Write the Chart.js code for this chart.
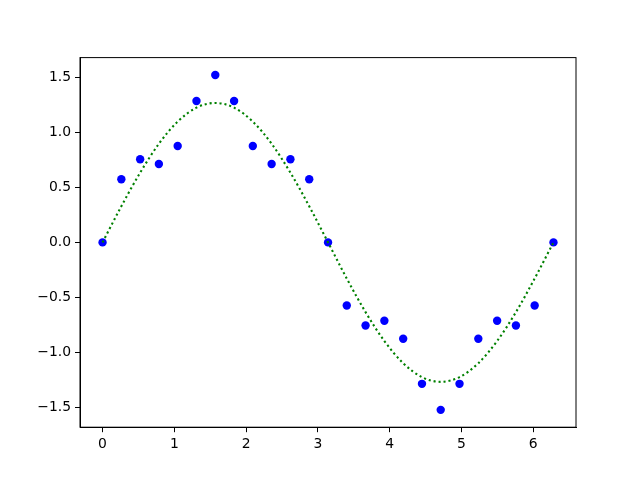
<!DOCTYPE html>
<html>
<head>
<meta charset="utf-8">
<script src="https://cdn.jsdelivr.net/npm/chart.js@4/dist/chart.umd.min.js"></script>
<style>
  body { margin: 0; background: #fff; }
</style>
</head>
<body>
<canvas id="myChart" width="640" height="480"></canvas>
<script>
// x positions (steps of pi/12 from 0 to 2*pi)
const xValues = [0, 0.262, 0.524, 0.785, 1.047, 1.309, 1.571, 1.833, 2.094, 2.356, 2.618, 2.880, 3.142,
                 3.403, 3.665, 3.927, 4.189, 4.451, 4.712, 4.974, 5.236, 5.498, 5.760, 6.021, 6.283]

// blue dots
const samples = [0, 0.575, 0.757, 0.714, 0.878, 1.288, 1.525, 1.288, 0.878, 0.714, 0.757, 0.575, 0,
                 -0.575, -0.757, -0.714, -0.878, -1.288, -1.525, -1.288, -0.878, -0.714, -0.757, -0.575, 0]

// green dotted fit curve
const fitted = [0, 0.329, 0.635, 0.898, 1.100, 1.227, 1.270, 1.227, 1.100, 0.898, 0.635, 0.329, 0,
                -0.329, -0.635, -0.898, -1.100, -1.227, -1.270, -1.227, -1.100, -0.898, -0.635, -0.329, 0]

const xTicks = [0, 1, 2, 3, 4, 5, 6]
const yTicks = [-1.5, -1.0, -0.5, 0.0, 0.5, 1.0, 1.5]

const minus = s => s.replace('-', '\u2212')

// caja alrededor del área del gráfico
const framePlugin = {
    id: 'frame',
    afterDraw(chart) {
        const { ctx, chartArea: a } = chart
        ctx.save()
        ctx.strokeStyle = '#000'
        ctx.lineWidth = 1
        ctx.strokeRect(a.left, a.top, a.right - a.left, a.bottom - a.top)
        ctx.restore()
    }
}

const font = { family: 'DejaVu Sans', size: 13.9 }

const ctx = document.getElementById('myChart').getContext('2d')
const myChart = new Chart(ctx, {
    type: 'scatter',
    data: {
        datasets: [{
            type: 'line',
            data: xValues.map((x, i) => ({ x, y: fitted[i] })),
            borderColor: '#008000',
            borderWidth: 2.1,
            borderDash: [2.1, 2.9],
            pointRadius: 0,
            cubicInterpolationMode: 'monotone',
            fill: false
        }, {
            data: xValues.map((x, i) => ({ x, y: samples[i] })),
            backgroundColor: '#0000ff',
            borderWidth: 0,
            pointRadius: 4.2,
            pointHoverRadius: 4.2
        }]
    },
    options: {
        responsive: false,
        animation: false,
        layout: { padding: { left: 0, top: 57.6, right: 64, bottom: 0 } },
        plugins: {
            legend: { display: false },
            tooltip: { enabled: false }
        },
        scales: {
            x: {
                type: 'linear',
                min: -0.314,
                max: 6.597,
                afterBuildTicks: scale => { scale.ticks = xTicks.map(v => ({ value: v })) },
                afterFit: scale => { scale.height = 52.8 },
                grid: { drawOnChartArea: false, drawTicks: true, tickLength: 5, color: '#000', lineWidth: 1 },
                border: { display: true, color: '#000', width: 1 },
                ticks: { color: '#000', font, padding: 4, maxRotation: 0, callback: v => String(v) }
            },
            y: {
                type: 'linear',
                min: -1.683,
                max: 1.683,
                afterBuildTicks: scale => { scale.ticks = yTicks.map(v => ({ value: v })) },
                afterFit: scale => { scale.width = 80 },
                grid: { drawOnChartArea: false, drawTicks: true, tickLength: 5, color: '#000', lineWidth: 1 },
                border: { display: true, color: '#000', width: 1 },
                ticks: { color: '#000', font, padding: 4, callback: v => minus(v.toFixed(1)) }
            }
        }
    },
    plugins: [framePlugin]
})
</script>
</body>
</html>
